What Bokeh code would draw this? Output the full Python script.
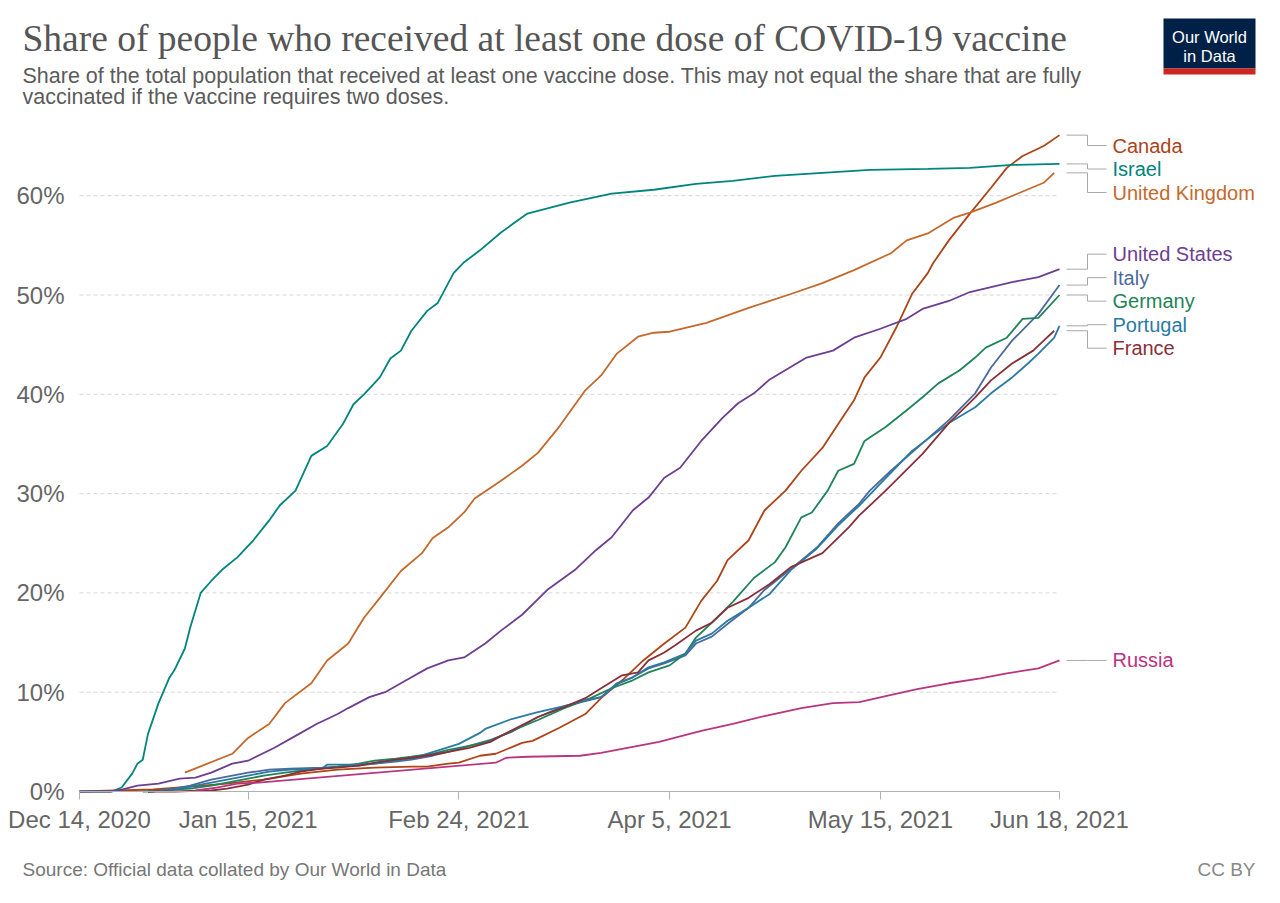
from bokeh.plotting import figure
from bokeh.models import Range1d, FixedTicker, PrintfTickFormatter, ColumnDataSource
from bokeh.embed import file_html
from bokeh.resources import INLINE
from bokeh.core.properties import value

SANS = "Liberation Sans"
SERIF = "Liberation Serif"

# ---------------- data (x = days since 2020-12-14, y = % of population) ----------------
tick_days = [0, 32, 72, 112, 152, 186]
tick_labels = ["Dec 14, 2020", "Jan 15, 2021", "Feb 24, 2021", "Apr 5, 2021", "May 15, 2021", "Jun 18, 2021"]
y_ticks = [0, 10, 20, 30, 40, 50, 60]

countries = ["Canada", "Israel", "United Kingdom", "United States", "Italy",
             "Germany", "Portugal", "France", "Russia"]
colors = ["#ad4418", "#00847e", "#c4692c", "#6d3e91", "#4c6a9c",
          "#1f8458", "#2a7aa3", "#883039", "#b8357f"]

israel_days = [0, 6, 8, 10, 11, 12, 13, 15, 17, 18, 20, 21, 23, 25, 27, 30, 33, 36, 38, 41,
               44, 47, 50, 52, 54, 57, 59, 61, 63, 66, 68, 71, 73, 76, 80, 85, 93, 101, 109,
               117, 124, 132, 141, 150, 161, 169, 177, 186]
israel_vals = [0, 0, 0.4, 1.8, 2.8, 3.2, 5.8, 8.9, 11.4, 12.2, 14.4, 16.5, 20.0, 21.2, 22.3,
               23.6, 25.3, 27.3, 28.8, 30.3, 33.8, 34.8, 37.0, 39.0, 40.0, 41.7, 43.6, 44.4,
               46.4, 48.4, 49.2, 52.2, 53.3, 54.5, 56.3, 58.2, 59.3, 60.2, 60.6, 61.2, 61.5,
               62.0, 62.3, 62.6, 62.7, 62.8, 63.1, 63.2]

uk_days = [20, 29, 32, 36, 39, 44, 47, 51, 54, 57, 61, 65, 67, 70, 73, 75, 80, 84, 87, 91,
           96, 99, 102, 106, 109, 112, 119, 127, 135, 141, 147, 154, 157, 161, 166, 169, 174,
           178, 183, 185]
uk_vals = [1.9, 3.8, 5.4, 6.8, 8.9, 10.9, 13.2, 14.9, 17.5, 19.5, 22.2, 24.0, 25.5, 26.6,
           28.1, 29.5, 31.3, 32.8, 34.1, 36.7, 40.4, 41.9, 44.1, 45.8, 46.2, 46.3, 47.2, 48.7,
           50.1, 51.2, 52.5, 54.2, 55.5, 56.2, 57.8, 58.3, 59.3, 60.2, 61.3, 62.3]

us_days = [0, 6, 8, 11, 15, 19, 22, 25, 29, 32, 37, 41, 45, 49, 51, 55, 58, 62, 66, 70, 73,
           77, 80, 84, 89, 94, 98, 101, 105, 108, 111, 114, 118, 122, 125, 128, 131, 138, 143,
           147, 152, 157, 160, 165, 169, 177, 182, 186]
us_vals = [0, 0, 0.2, 0.6, 0.8, 1.3, 1.4, 1.9, 2.8, 3.1, 4.4, 5.6, 6.8, 7.8, 8.4, 9.5, 10.0,
           11.2, 12.4, 13.2, 13.5, 14.9, 16.2, 17.8, 20.4, 22.3, 24.3, 25.6, 28.3, 29.6, 31.6,
           32.6, 35.3, 37.6, 39.1, 40.1, 41.5, 43.7, 44.4, 45.7, 46.6, 47.6, 48.6, 49.4, 50.3,
           51.3, 51.8, 52.6]

canada_days = [0, 7, 14, 21, 28, 35, 42, 49, 56, 63, 66, 70, 72, 76, 79, 84, 86, 91, 96, 99,
               103, 107, 111, 115, 118, 121, 123, 127, 130, 134, 137, 141, 144, 147, 149, 152,
               155, 158, 161, 162, 165, 169, 173, 176, 179, 183, 186]
canada_vals = [0, 0.1, 0.2, 0.5, 0.8, 1.2, 1.8, 2.2, 2.4, 2.5, 2.5, 2.8, 2.9, 3.6, 3.8, 4.9,
               5.1, 6.4, 7.8, 9.4, 11.2, 13.2, 14.9, 16.5, 19.2, 21.2, 23.3, 25.3, 28.3, 30.3,
               32.3, 34.6, 37.0, 39.4, 41.7, 43.7, 46.7, 50.1, 52.2, 53.2, 55.5, 58.2, 60.8,
               62.8, 64.0, 65.0, 66.1]

russia_days = [22, 26, 30, 34, 79, 81, 85, 95, 99, 105, 110, 118, 124, 130, 137, 143, 148,
               153, 159, 165, 171, 176, 182, 186]
russia_vals = [0.1, 0.4, 0.8, 0.9, 2.9, 3.4, 3.5, 3.6, 3.9, 4.5, 5.0, 6.1, 6.8, 7.6, 8.4, 8.9,
               9.0, 9.6, 10.3, 10.9, 11.4, 11.9, 12.4, 13.2]

germany_days = [12, 14, 18, 21, 25, 28, 32, 35, 39, 42, 46, 49, 53, 56, 60, 63, 67, 70, 74,
                78, 82, 87, 92, 97, 101, 105, 108, 112, 115, 117, 121, 124, 128, 132, 134, 137,
                139, 142, 144, 147, 149, 153, 157, 160, 163, 167, 170, 172, 176, 179, 182, 186]
germany_vals = [0, 0.02, 0.2, 0.3, 0.6, 0.9, 1.3, 1.6, 1.9, 2.1, 2.3, 2.5, 2.8, 3.1, 3.3,
                3.5, 3.8, 4.2, 4.6, 5.1, 6.1, 7.2, 8.4, 9.4, 10.4, 11.2, 12.0, 12.7, 13.9,
                15.5, 17.5, 19.1, 21.5, 23.1, 24.6, 27.6, 28.1, 30.3, 32.3, 33.0, 35.3, 36.7,
                38.4, 39.7, 41.1, 42.4, 43.7, 44.7, 45.7, 47.6, 47.7, 50.0]

italy_days = [13, 14, 18, 21, 25, 28, 32, 36, 40, 46, 49, 53, 56, 60, 63, 67, 70, 74, 78, 82,
              87, 92, 96, 99, 102, 105, 108, 111, 115, 117, 120, 124, 127, 130, 135, 140, 144,
              148, 150, 154, 159, 165, 170, 173, 177, 182, 186]
italy_vals = [0, 0.02, 0.3, 0.6, 1.2, 1.5, 1.9, 2.2, 2.3, 2.4, 2.5, 2.6, 2.8, 3.0, 3.2, 3.6,
              4.0, 4.6, 5.2, 6.0, 7.5, 8.6, 9.1, 9.5, 10.8, 11.5, 12.4, 12.9, 13.7, 14.9, 15.6,
              17.3, 18.5, 20.3, 22.4, 24.6, 27.0, 29.0, 30.3, 32.3, 34.6, 37.4, 40.1, 42.7,
              45.4, 48.1, 51.0]

portugal_days = [13, 14, 18, 21, 25, 28, 32, 36, 40, 46, 47, 53, 56, 60, 63, 69, 72, 76, 77,
                 82, 87, 92, 96, 99, 102, 105, 108, 111, 115, 117, 120, 123, 127, 131, 135,
                 140, 144, 148, 152, 158, 165, 170, 173, 177, 180, 182, 185, 186]
portugal_vals = [0, 0.02, 0.2, 0.5, 0.9, 1.2, 1.6, 2.0, 2.2, 2.3, 2.7, 2.7, 2.8, 3.1, 3.3,
                 4.3, 4.8, 5.9, 6.3, 7.3, 8.0, 8.6, 9.2, 9.5, 10.9, 11.5, 12.5, 13.0, 13.9,
                 15.2, 15.9, 17.2, 18.5, 19.9, 22.3, 24.5, 26.8, 28.8, 31.0, 34.3, 37.1, 38.7,
                 40.1, 41.7, 43.1, 44.1, 45.7, 46.9]

france_days = [13, 18, 21, 25, 28, 32, 35, 39, 42, 46, 49, 53, 56, 60, 63, 67, 70, 74, 78, 80,
               87, 92, 96, 99, 103, 106, 108, 111, 113, 117, 120, 123, 127, 131, 135, 141, 146,
               148, 153, 160, 165, 170, 173, 177, 181, 183, 185]
france_vals = [0, 0.0, 0.05, 0.1, 0.3, 0.7, 1.2, 1.6, 2.0, 2.3, 2.4, 2.6, 2.9, 3.2, 3.4, 3.7,
               4.0, 4.4, 5.0, 5.6, 7.5, 8.5, 9.4, 10.4, 11.7, 12.0, 13.2, 14.0, 14.7, 16.2,
               17.0, 18.5, 19.5, 20.9, 22.6, 24.0, 26.6, 27.8, 30.3, 34.0, 37.1, 39.7, 41.4,
               43.1, 44.4, 45.4, 46.4]

series = {
    "Canada": (canada_days, canada_vals),
    "Israel": (israel_days, israel_vals),
    "United Kingdom": (uk_days, uk_vals),
    "United States": (us_days, us_vals),
    "Italy": (italy_days, italy_vals),
    "Germany": (germany_days, germany_vals),
    "Portugal": (portugal_days, portugal_vals),
    "France": (france_days, france_vals),
    "Russia": (russia_days, russia_vals),
}

title_text = "Share of people who received at least one dose of COVID-19 vaccine"
subtitle_lines = ["Share of the total population that received at least one vaccine dose. This may not equal the share that are fully",
                  "vaccinated if the vaccine requires two doses."]
source_text = "Source: Official data collated by Our World in Data"
license_text = "CC BY"

# ---------------- geometry (page pixels) ----------------
W, H = 1272, 895
ORIGIN_X, ORIGIN_Y = 79, 791            # page position of (Dec 14, 0%)
LAST_DAY = tick_days[-1]
PX_DAY = 980.0 / LAST_DAY
PX_PCT = 9.93


def X(px):
    return (px - ORIGIN_X) / PX_DAY


def Y(py):
    return (ORIGIN_Y - py) / PX_PCT


p = figure(width=W, height=H, output_backend="svg", toolbar_location=None,
           x_range=Range1d(X(0), X(W)), y_range=Range1d(Y(H), Y(0)),
           min_border=0, min_border_left=0, min_border_right=0,
           min_border_top=0, min_border_bottom=0)
p.outline_line_color = None
p.xgrid.visible = False
p.ygrid.visible = False

# axes drawn at the data origin
p.xaxis.fixed_location = 0
p.xaxis.ticker = FixedTicker(ticks=tick_days)
p.xaxis.major_label_overrides = {d: l for d, l in zip(tick_days, tick_labels)}
p.xaxis.bounds = (0, LAST_DAY)
p.xaxis.axis_line_color = "#b0b0b0"
p.xaxis.major_tick_line_color = "#b0b0b0"
p.xaxis.major_tick_out = 8
p.xaxis.major_tick_in = 0
p.xaxis.minor_tick_line_color = None
p.xaxis.major_label_text_font = SANS
p.xaxis.major_label_text_font_size = "24px"
p.xaxis.major_label_text_color = "#666666"
p.xaxis.major_label_standoff = 6

p.yaxis.fixed_location = 0
p.yaxis.ticker = FixedTicker(ticks=y_ticks)
p.yaxis.formatter = PrintfTickFormatter(format="%d%%")
p.yaxis.axis_line_color = None
p.yaxis.major_tick_line_color = None
p.yaxis.minor_tick_line_color = None
p.yaxis.major_label_text_font = SANS
p.yaxis.major_label_text_font_size = "24px"
p.yaxis.major_label_text_color = "#666666"
p.yaxis.major_label_standoff = 9

# dashed gridlines
gy = [t for t in y_ticks if t > 0]
p.segment(x0=[0] * len(gy), x1=[LAST_DAY] * len(gy), y0=gy, y1=gy,
          line_color="#d6d6d6", line_width=1, line_dash="4 3")

# series lines
for c, col in zip(countries, colors):
    d, v = series[c]
    p.line(d, v, line_color=col, line_width=1.8)

# label placement (avoid overlaps)
ends = {c: series[c][1][-1] for c in countries}
order = sorted(countries, key=lambda c: -ends[c])
SPACING = 23.5 / PX_PCT
CEIL = Y(145)


def group_top(g):
    t = sum(ends[c] + k * SPACING for k, c in enumerate(g)) / len(g)
    return min(t, CEIL)


groups = [[c] for c in order]
changed = True
while changed:
    changed = False
    for i in range(len(groups) - 1):
        a, b = groups[i], groups[i + 1]
        a_bottom = group_top(a) - (len(a) - 1) * SPACING
        if a_bottom - SPACING < group_top(b) - 1e-9:
            groups[i] = a + b
            del groups[i + 1]
            changed = True
            break
label_y = {}
for g in groups:
    t = group_top(g)
    for k, c in enumerate(g):
        label_y[c] = t - k * SPACING

x_start = LAST_DAY + 7 / PX_DAY
x_elbow = LAST_DAY + 28 / PX_DAY
x_stop = LAST_DAY + 47 / PX_DAY
x_label = LAST_DAY + 53 / PX_DAY

xs, ys = [], []
for c in countries:
    xs.append([x_start, x_elbow, x_elbow, x_stop])
    ys.append([ends[c], ends[c], label_y[c], label_y[c]])
p.multi_line(xs, ys, line_color="#a8a8a8", line_width=1)

lab_src = ColumnDataSource(dict(x=[x_label] * len(countries),
                                y=[label_y[c] for c in countries],
                                text=countries, color=colors))
p.text(x="x", y="y", text="text", text_color="color", source=lab_src,
       text_font=value(SANS), text_font_size="20px", text_baseline="middle",
       text_align="left")

# ---------------- header ----------------
p.text(x=[X(22)], y=[Y(38)], text=[title_text], text_font=value(SERIF),
       text_font_size="37.5px", text_color="#555555", text_baseline="middle")
p.text(x=[X(22), X(22)], y=[Y(75), Y(96)], text=subtitle_lines,
       text_font=value(SANS), text_font_size="21.5px", text_color="#5b5b5b",
       text_baseline="middle")
p.quad(left=[X(1163)], right=[X(1255)], top=[Y(18)], bottom=[Y(68)],
       fill_color="#002147", line_color=None)
p.quad(left=[X(1163)], right=[X(1255)], top=[Y(68)], bottom=[Y(74)],
       fill_color="#ce261e", line_color=None)
p.text(x=[X(1209), X(1209)], y=[Y(36), Y(55)], text=["Our World", "in Data"],
       text_font=value(SANS), text_font_size="16.5px", text_color="white",
       text_align="center", text_baseline="middle")

# ---------------- footer ----------------
p.text(x=[X(22)], y=[Y(869)], text=[source_text], text_font=value(SANS),
       text_font_size="19px", text_color="#777777", text_baseline="middle")
p.text(x=[X(1255)], y=[Y(869)], text=[license_text], text_font=value(SANS),
       text_font_size="19px", text_color="#888888", text_baseline="middle",
       text_align="right")

open("out.html", "w").write(file_html(p, INLINE))
